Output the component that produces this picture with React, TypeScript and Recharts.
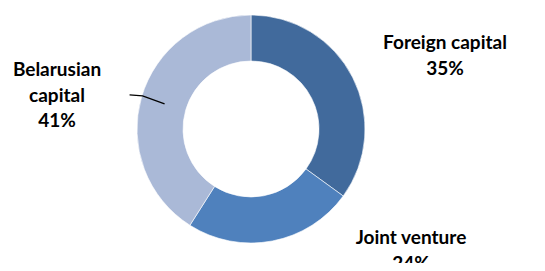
import React from "react";
import { PieChart, Pie, Cell } from "recharts";

const categories = ["Foreign capital", "Joint venture", "Belarusian capital"];
const shares = [35, 24, 41];
const colors = ["#416A9C", "#4F81BD", "#AAB9D7"];

const data = categories.map((name, i) => ({ name, value: shares[i] }));

const labelLines: Record<string, string[]> = {
  "Foreign capital": ["Foreign capital"],
  "Joint venture": ["Joint venture"],
  "Belarusian capital": ["Belarusian", "capital"],
};
// label block anchor offsets relative to the pie centre (first baseline)
const labelOffsets: Record<string, { dx: number; dy: number }> = {
  "Foreign capital": { dx: 194, dy: -80 },
  "Joint venture": { dx: 160, dy: 115 },
  "Belarusian capital": { dx: -194, dy: -53 },
};

const LINE_H = 25.5;

const renderLabel = (props: any) => {
  const { cx, cy, midAngle, innerRadius, outerRadius, name, percent } = props;
  const off = labelOffsets[name];
  const lines = [...labelLines[name], `${Math.round(percent * 100)}%`];
  const x = cx + off.dx;
  const y = cy + off.dy;
  const RAD = Math.PI / 180;
  let leader = null;
  if (name === "Belarusian capital") {
    const r = (innerRadius + outerRadius) / 2 - 1;
    const sx = cx + r * Math.cos(-midAngle * RAD);
    const sy = cy + r * Math.sin(-midAngle * RAD);
    leader = (
      <polyline
        points={`${sx},${sy} ${sx - 22},${sy - 8} ${sx - 35},${sy - 9}`}
        fill="none"
        stroke="#000"
        strokeWidth={1.3}
      />
    );
  }
  return (
    <g>
      {leader}
      <text
        x={x}
        y={y}
        textAnchor="middle"
        fill="#000"
        fontFamily="Lato, 'Open Sans', sans-serif"
        fontWeight={700}
        fontSize={19}
      >
        {lines.map((l, i) => (
          <tspan key={i} x={x} dy={i === 0 ? 0 : LINE_H}>
            {l}
          </tspan>
        ))}
      </text>
    </g>
  );
};

export default function App() {
  return (
    <div style={{ margin: -8, width: 545, height: 271, position: "relative", overflow: "hidden", background: "#fff" }}>
      <PieChart width={545} height={271} margin={{ top: 0, right: 0, bottom: 0, left: 0 }}>
        <Pie
          data={data}
          dataKey="value"
          nameKey="name"
          cx={251}
          cy={129}
          innerRadius={68}
          outerRadius={114}
          startAngle={90}
          endAngle={-270}
          stroke="#ffffff"
          strokeWidth={0.6}
          label={renderLabel}
          labelLine={false}
          isAnimationActive={false}
        >
          {data.map((d, i) => (
            <Cell key={d.name} fill={colors[i]} />
          ))}
        </Pie>
      </PieChart>
    </div>
  );
}
